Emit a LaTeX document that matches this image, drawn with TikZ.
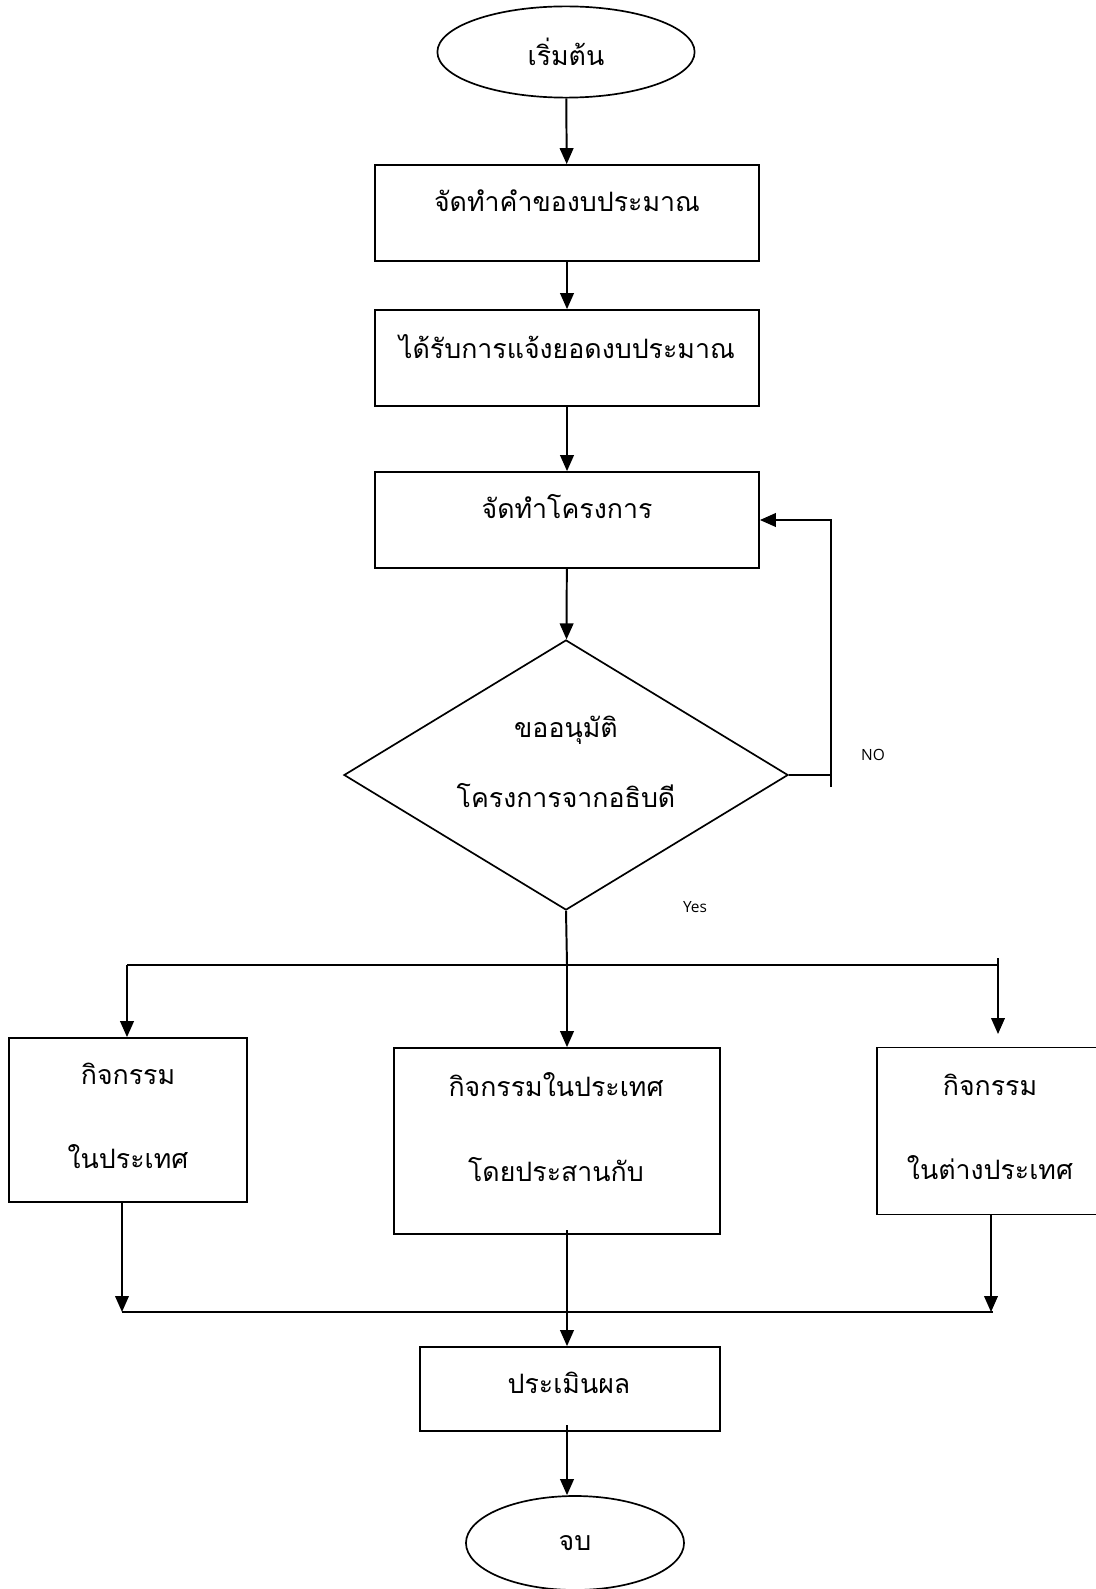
\documentclass[tikz,border=0pt]{standalone}
\usepackage{fontspec}
\usepackage{tikz}
\usetikzlibrary{arrows.meta,positioning,shapes.geometric,calc}
\newfontfamily\thaifont[Script=Thai]{Loma}
\newfontfamily\notefont{Open Sans}

\begin{document}
\begin{tikzpicture}[x=0.025cm,y=-0.025cm,
  flowline/.style={line width=1.4pt},
  flowarrow/.style={flowline,-{Triangle[length=0.4cm,width=0.34cm]}},
  procbox/.style={draw,line width=1.2pt,rectangle,inner sep=0pt},
  termnode/.style={draw,line width=1.2pt,ellipse,inner sep=0pt,
    font=\thaifont\fontsize{19}{19}\selectfont},
  choicebox/.style={draw,line width=1.2pt,diamond,inner sep=0pt},
  thtext/.style={font=\thaifont\fontsize{19}{23}\selectfont,inner sep=0pt,align=center},
  note/.style={font=\notefont\fontsize{11}{11}\selectfont,inner sep=0pt}]

  \useasboundingbox (0,0) rectangle (1096,1589);

  % main column
  \node[termnode,minimum width=6.43cm,minimum height=2.28cm] (start) at (566,52) {เริ่มต้น};
  \node[procbox,minimum width=9.6cm,minimum height=2.4cm] (request) at (567,213) {};
  \node[thtext] (requesttxt) at (567,201) {จัดทำคำของบประมาณ};
  \node[procbox,minimum width=9.6cm,minimum height=2.4cm] (notify) at (567,358) {};
  \node[thtext] (notifytxt) at (567,347) {ได้รับการแจ้งยอดงบประมาณ};
  \node[procbox,minimum width=9.6cm,minimum height=2.4cm] (project) at (567,520) {};
  \node[thtext] (projecttxt) at (567,507) {จัดทำโครงการ};
  \node[choicebox,minimum width=11.1cm,minimum height=6.75cm] (approve) at (566,775) {};
  \node[thtext] (approvetxt) at (566,762) {ขออนุมัติ\\[0.95cm]โครงการจากอธิบดี};

  % three activities
  \node[procbox,minimum width=5.95cm,minimum height=4.1cm] (inland) at (128,1120) {};
  \node[thtext] (inlandtxt) at (128,1116) {กิจกรรม\\[1.3cm]ในประเทศ};
  \node[procbox,minimum width=8.15cm,minimum height=4.65cm] (joint) at (557,1141) {};
  \node[thtext] (jointtxt) at (556,1127) {กิจกรรมในประเทศ\\[1.3cm]โดยประสานกับ};
  \node[procbox,minimum width=5.65cm,minimum height=4.18cm] (abroad) at (990,1131) {};
  \node[thtext] (abroadtxt) at (990,1127) {กิจกรรม\\[1.3cm]ในต่างประเทศ};

  \node[procbox,minimum width=7.5cm,minimum height=2.1cm] (evaluate) at (570,1389) {};
  \node[thtext] (evaluatetxt) at (569,1383) {ประเมินผล};
  \node[termnode,minimum width=5.45cm,minimum height=2.35cm] (finish) at (575,1543) {จบ};

  \node[note] (nolabel) at (873,755) {NO};
  \node[note] (yeslabel) at (695,907) {Yes};

  \coordinate (nolow) at (831,787);
  \coordinate (notop) at (831,520);
  \coordinate (splitmid) at (567,965);
  \coordinate (splitleft) at (127,965);
  \coordinate (splitright) at (998,965);
  \coordinate (splitrighttop) at (998,958);
  \coordinate (abroadin) at (998,1034);
  \coordinate (mergeleft) at (122,1312);
  \coordinate (mergeright) at (991,1312);
  \coordinate (jointout) at (567,1230);
  \coordinate (evalout) at (567,1425);

  \draw[flowarrow] (start) -- (request);
  \draw[flowarrow] (request) -- (notify);
  \draw[flowarrow] (notify) -- (project);
  \draw[flowarrow] (project) -- (approve);

  % NO goes back up
  \draw[flowline] (approve.east) -- (approve.east -| nolow);
  \draw[flowarrow] (nolow) -- (notop) -- (project.east);

  % Yes splits in three
  \draw[flowline] (approve.south) -- (splitmid);
  \draw[flowline] (splitleft) -- (splitright);
  \draw[flowarrow] (splitleft) -- (splitleft |- inland.north);
  \draw[flowarrow] (splitmid) -- (splitmid |- joint.north);
  \draw[flowarrow] (splitrighttop) -- (abroadin);

  % and joins again
  \draw[flowarrow] (inland.south -| mergeleft) -- (mergeleft);
  \draw[flowarrow] (abroad.south -| mergeright) -- (mergeright);
  \draw[flowline] (mergeleft) -- ($(mergeright)+(2,0)$);
  \draw[flowarrow] (jointout) -- (jointout |- evaluate.north);
  \draw[flowarrow] (evalout) -- (evalout |- finish.north);
\end{tikzpicture}
\end{document}
